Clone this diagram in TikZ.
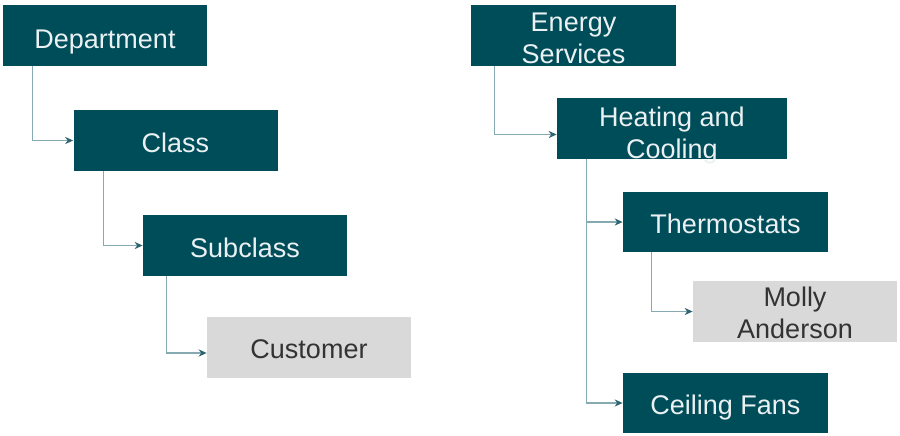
\documentclass[tikz,border=0pt]{standalone}
\usepackage{fontspec}
\setmainfont{Liberation Sans}
\usetikzlibrary{arrows.meta}
\definecolor{tealbox}{HTML}{004D5A}
\definecolor{greybox}{HTML}{D9D9D9}
\definecolor{connline}{HTML}{86AAB2}
\definecolor{conntip}{HTML}{2D6470}
\definecolor{greytext}{HTML}{333333}
\newcommand{\twolines}[2]{\begin{tabular}[b]{@{}c@{}}#1\\#2\end{tabular}}
\tikzset{
  boxbase/.style={rectangle, inner sep=0pt, minimum width=102pt, minimum height=30.5pt,
    font=\fontsize{13.5}{16}\selectfont, text height=11.5pt, text depth=0pt},
  darkbox/.style={boxbase, fill=tealbox, text=white!92!tealbox},
  lightbox/.style={boxbase, fill=greybox, text=greytext},
  lastbase/.style={text height=#1, text depth=0pt},
  conn/.style={draw=connline, line width=0.6pt, -{Stealth[length=4pt,width=3.6pt,color=conntip]}},
}
\begin{document}
\begin{tikzpicture}[x=0.5pt,y=-0.5pt]
\useasboundingbox (0,0) rectangle (900,435);
% left tree
\node[darkbox, text height=12.5pt] (dept) at (105,35.5) {Department};
\node[darkbox] (class) at (175.5,140.5) {Class};
\node[darkbox] (sub) at (245,245.5) {Subclass};
\node[lightbox] (cust) at (309,347) {Customer};
% right tree
\node[darkbox, minimum width=102.5pt, lastbase=28pt] (es) at (573.5,35.5) {\twolines{Energy}{Services}};
\node[darkbox, minimum width=115pt, lastbase=30pt] (hc) at (672,128.5) {\twolines{Heating and}{Cooling}};
\node[darkbox, minimum width=102.5pt, minimum height=30pt] (thermo) at (725.5,222) {Thermostats};
\node[lightbox, lastbase=27pt] (molly) at (795,311.5) {\twolines{Molly}{Anderson}};
\node[darkbox, minimum width=102.5pt, minimum height=30pt] (cf) at (725.5,403) {Ceiling Fans};
% connectors
\draw[conn] ([xshift=15pt]dept.south west) |- (class.west);
\draw[conn] ([xshift=15pt]class.south west) |- (sub.west);
\draw[conn] ([xshift=12pt]sub.south west) |- ([yshift=-3pt]cust.west);
\draw[conn] ([xshift=12pt]es.south west) |- ([yshift=-3pt]hc.west);
\draw[conn] ([xshift=15pt]hc.south west) |- (thermo.west);
\draw[conn] ([xshift=15pt]hc.south west) |- (cf.west);
\draw[conn] ([xshift=14.5pt]thermo.south west) |- (molly.west);
\end{tikzpicture}
\end{document}
